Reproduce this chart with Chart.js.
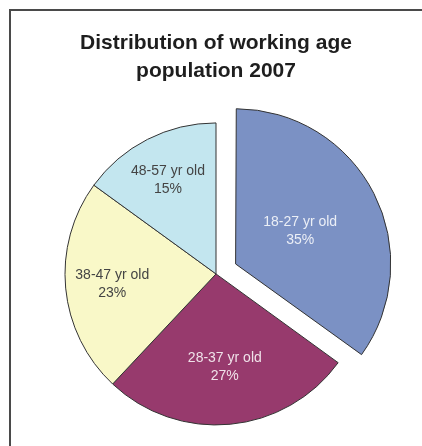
<!DOCTYPE html>
<html>
<head>
<meta charset="utf-8">
<script src="https://cdn.jsdelivr.net/npm/chart.js@4"></script>
<style>
    body { margin: 0; background: #fff; overflow: hidden; }
    #wrap { position: relative; width: 422px; height: 446px; overflow: hidden; }
    #frame { position: absolute; left: 9px; top: 9px; width: 500px; height: 500px; border-left: 2px solid #4a4a4a; border-top: 2px solid #4a4a4a; }
    canvas { position: absolute; left: 0; top: 0; }
</style>
</head>
<body>
<div id="wrap">
    <div id="frame"></div>
    <canvas id="pieChart" width="422" height="446"></canvas>
</div>
<script>
// data
const ageGroups = ['18-27 yr old', '28-37 yr old', '38-47 yr old', '48-57 yr old'];
const shares = [35, 27, 23, 15];

const sliceColors = ['#7b91c4', '#973a6d', '#f9f8c8', '#c3e6ef'];
const labelColors = ['rgba(255,255,255,0.85)', 'rgba(255,255,255,0.85)', '#444', '#444'];
const labelDist = [0.48, 0.62, 0.69, 0.7];

// draws "name / pct" inside each slice
const sliceLabels = {
    id: 'sliceLabels',
    afterDatasetsDraw(chart) {
        const c = chart.ctx;
        const arcs = chart.getDatasetMeta(0).data;
        c.save();
        c.font = '14px "Liberation Sans", Arial, sans-serif';
        c.textAlign = 'center';
        c.textBaseline = 'middle';
        arcs.forEach(function (arc, i) {
            const mid = (arc.startAngle + arc.endAngle) / 2;
            const shift = (arc.options.offset || 0) / 4;
            const d = shift + arc.outerRadius * labelDist[i];
            const x = arc.x + Math.cos(mid) * d;
            const y = arc.y + Math.sin(mid) * d;
            c.fillStyle = labelColors[i];
            c.fillText(ageGroups[i], x, y - 9);
            c.fillText(shares[i] + '%', x, y + 9);
        });
        c.restore();
    }
};

const ctx = document.getElementById('pieChart');

new Chart(ctx, {
    type: 'pie',
    data: {
        labels: ageGroups,
        datasets: [{
            data: shares,
            backgroundColor: sliceColors,
            borderColor: '#333',
            borderWidth: 1,
            offset: [88, 0, 0, 0]
        }]
    },
    options: {
        responsive: false,
        animation: false,
        radius: 151,
        layout: { padding: { left: 10, right: 0, top: 0, bottom: 0 } },
        plugins: {
            legend: { display: false },
            tooltip: { enabled: false },
            title: {
                display: true,
                text: ['Distribution of working age', 'population 2007'],
                color: '#1e1e1e',
                font: { family: '"Liberation Sans", Arial, sans-serif', size: 21, weight: 'bold', lineHeight: 1.33 },
                padding: { top: 29, bottom: 17 }
            }
        }
    },
    plugins: [sliceLabels]
});
</script>
</body>
</html>
